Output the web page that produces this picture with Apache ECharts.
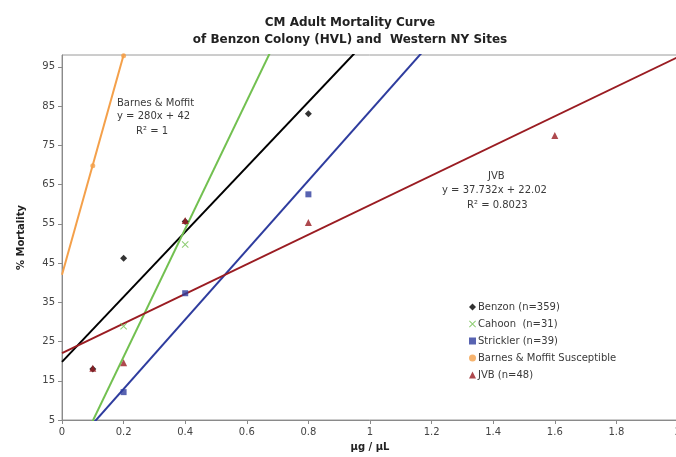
<!DOCTYPE html>
<html>
<head>
<meta charset="utf-8">
<script src="https://cdn.jsdelivr.net/npm/echarts@6/dist/echarts.min.js"></script>
<style>html,body{margin:0;padding:0;background:#fff;overflow:hidden}#c{width:676px;height:457px}</style>
</head>
<body>
<div id="c"></div>
<script>
// ---- data ----
var xTicks = [0, 0.2, 0.4, 0.6, 0.8, 1, 1.2, 1.4, 1.6, 1.8, 2];
var yTicks = [5, 15, 25, 35, 45, 55, 65, 75, 85, 95];

var benzonX = [0.1, 0.2, 0.4, 0.8];
var benzonY = [18, 46.2, 55.6, 83];
var cahoonX = [0.2, 0.4];
var cahoonY = [28.9, 49.7];
var stricklerX = [0.2, 0.4, 0.8];
var stricklerY = [12.1, 37.3, 62.5];
var barnesX = [0.1, 0.2];
var barnesY = [69.8, 97.8];
var jvbX = [0.1, 0.2, 0.4, 0.8, 1.6];
var jvbY = [18.2, 19.6, 55.8, 55.3, 77.5];

var benzonTrend = [82.8, 19.8];
var cahoonTrend = [163, -11.5];
var stricklerTrend = [88.5, -4.8];
var barnesTrend = [280, 42];
var jvbTrend = [37.732, 22.02];

var seriesNames = ['Benzon (n=359)', 'Cahoon  (n=31)', 'Strickler (n=39)', 'Barnes & Moffit Susceptible', 'JVB (n=48)'];
// ---------------------------------------

var colors = {
  benzon: '#000000',
  cahoon: '#72c050',
  strickler: '#2e3c9e',
  barnes: '#f4a04a',
  jvb: '#9a1c22'
};
var xMin = 0, xMax = 2, yMin = 5, yMax = 98;

function pts(xs, ys) { return xs.map(function (x, i) { return [x, ys[i]]; }); }
function trend(t) { return [[xMin, t[0] * xMin + t[1]], [xMax, t[0] * xMax + t[1]]]; }

var crossPath = 'path://M0,1L1,0L5,4L9,0L10,1L6,5L10,9L9,10L5,6L1,10L0,9L4,5Z';
var txt = '#3a3a3a';
var font = 'DejaVu Sans';

function lineSeries(name, t, color) {
  return {
    name: name, type: 'line', data: trend(t), symbol: 'none', silent: true,
    clip: true, z: 1, lineStyle: { color: color, width: 2 }
  };
}

var chart = echarts.init(document.getElementById('c'), null, { renderer: 'canvas' });
chart.setOption({
  animation: false,
  backgroundColor: '#fff',
  textStyle: { fontFamily: font },
  title: {
    text: 'CM Adult Mortality Curve\nof Benzon Colony (HVL) and  Western NY Sites',
    left: 345, top: 9, textAlign: 'center',
    textStyle: { fontFamily: font, fontSize: 12, fontWeight: 'bold', color: '#222', lineHeight: 17 }
  },
  grid: { left: 62, top: 55, width: 616, height: 365, show: true, borderColor: '#9a9a9a', borderWidth: 1, containLabel: false, outerBoundsMode: 'none' },
  legend: {
    orient: 'vertical', left: 464, top: 297, itemGap: 7, itemWidth: 7, itemHeight: 7,
    data: seriesNames,
    textStyle: { fontFamily: font, fontSize: 10, color: txt, padding: [0, 0, 0, -3] }
  },
  xAxis: {
    type: 'value', min: xMin, max: xMax, interval: 0.2,
    name: 'µg / µL', nameLocation: 'middle', nameGap: 22,
    nameTextStyle: { fontFamily: font, fontSize: 10, fontWeight: 'bold', color: '#222' },
    axisLine: { show: true, lineStyle: { color: '#8a8a8a', width: 1 } },
    axisTick: { show: true, length: 4, lineStyle: { color: '#8a8a8a' }, customValues: xTicks },
    axisLabel: { fontFamily: font, fontSize: 10, color: '#444', margin: 7, customValues: xTicks },
    splitLine: { show: false }
  },
  yAxis: {
    type: 'value', min: yMin, max: yMax,
    name: '% Mortality', nameLocation: 'middle', nameGap: 36, nameRotate: 90,
    nameTextStyle: { fontFamily: font, fontSize: 10, fontWeight: 'bold', color: '#222' },
    axisLine: { show: true, lineStyle: { color: '#8a8a8a', width: 1 } },
    axisTick: { show: true, length: 4, lineStyle: { color: '#8a8a8a' }, customValues: yTicks },
    axisLabel: { fontFamily: font, fontSize: 10, color: '#444', margin: 7, customValues: yTicks },
    splitLine: { show: false }
  },
  graphic: [
    { type: 'text', left: 117, top: 98, style: { text: 'Barnes & Moffit', fill: txt, font: '10px DejaVu Sans', textAlign: 'left' } },
    { type: 'text', left: 117, top: 111, style: { text: 'y = 280x + 42', fill: txt, font: '10px DejaVu Sans' } },
    { type: 'text', left: 136, top: 126, style: { text: 'R² = 1', fill: txt, font: '10px DejaVu Sans' } },
    { type: 'text', left: 488, top: 171, style: { text: 'JVB', fill: txt, font: '10px DejaVu Sans' } },
    { type: 'text', left: 442, top: 185, style: { text: 'y = 37.732x + 22.02', fill: txt, font: '10px DejaVu Sans' } },
    { type: 'text', left: 467, top: 200, style: { text: 'R² = 0.8023', fill: txt, font: '10px DejaVu Sans' } }
  ],
  series: [
    lineSeries('Benzon trend', benzonTrend, colors.benzon),
    lineSeries('Cahoon trend', cahoonTrend, colors.cahoon),
    lineSeries('Strickler trend', stricklerTrend, colors.strickler),
    lineSeries('Barnes trend', barnesTrend, colors.barnes),
    lineSeries('JVB trend', jvbTrend, colors.jvb),
    { name: seriesNames[0], type: 'scatter', data: pts(benzonX, benzonY), symbol: 'diamond', symbolSize: 7, z: 3, itemStyle: { color: colors.benzon } },
    { name: seriesNames[1], type: 'scatter', data: pts(cahoonX, cahoonY), symbol: crossPath, symbolSize: 7, z: 3, itemStyle: { color: colors.cahoon } },
    { name: seriesNames[2], type: 'scatter', data: pts(stricklerX, stricklerY), symbol: 'rect', symbolSize: 6, z: 3, itemStyle: { color: colors.strickler } },
    { name: seriesNames[3], type: 'scatter', data: pts(barnesX, barnesY), symbol: 'circle', symbolSize: 5, z: 3, itemStyle: { color: colors.barnes } },
    { name: seriesNames[4], type: 'scatter', data: pts(jvbX, jvbY), symbol: 'triangle', symbolSize: 7, z: 4, itemStyle: { color: colors.jvb } }
  ]
});
</script>
</body>
</html>
